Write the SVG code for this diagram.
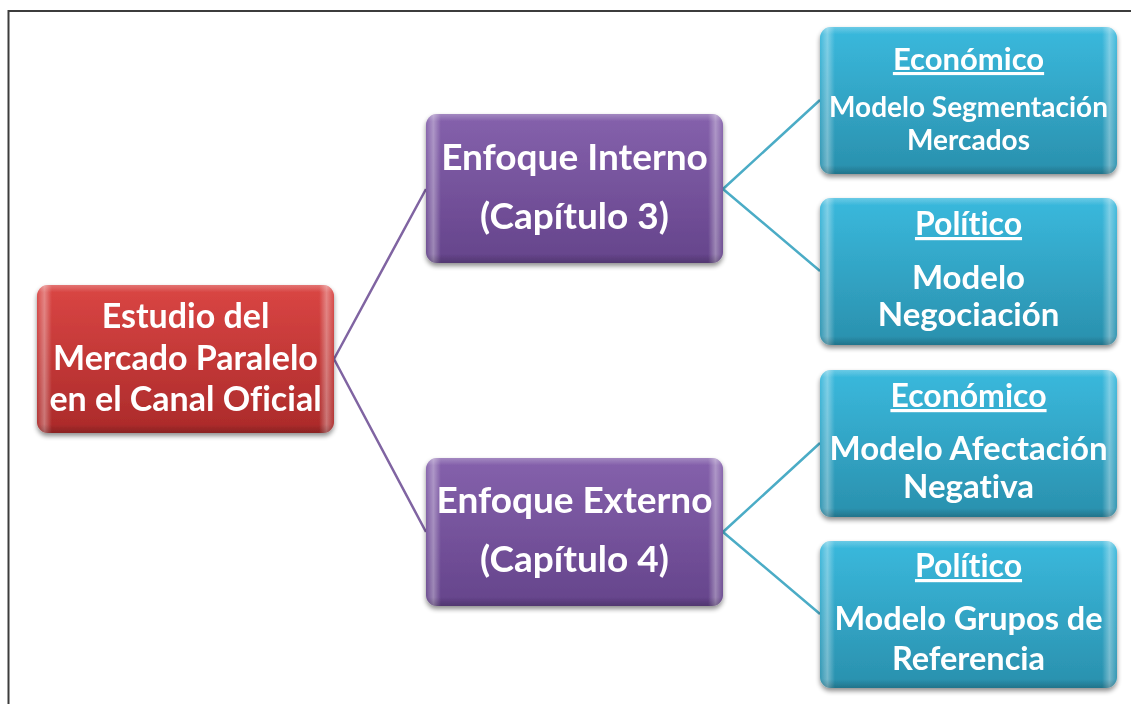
<svg xmlns="http://www.w3.org/2000/svg" width="1131" height="704" viewBox="0 0 1131 704">
  <defs>
    <linearGradient id="gRed" x1="0" y1="0" x2="0" y2="1">
      <stop offset="0" stop-color="#da4644"/>
      <stop offset="1" stop-color="#ab2a2a"/>
    </linearGradient>
    <linearGradient id="gPurple" x1="0" y1="0" x2="0" y2="1">
      <stop offset="0" stop-color="#8561ac"/>
      <stop offset="1" stop-color="#65448b"/>
    </linearGradient>
    <linearGradient id="gTeal" x1="0" y1="0" x2="0" y2="1">
      <stop offset="0" stop-color="#3ab9dd"/>
      <stop offset="1" stop-color="#2a90ad"/>
    </linearGradient>
    <!-- bevel: light side strips -->
    <linearGradient id="gSides" x1="0" y1="0" x2="1" y2="0">
      <stop offset="0" stop-color="#fff" stop-opacity="0.05"/>
      <stop offset="0.025" stop-color="#fff" stop-opacity="0.35"/>
      <stop offset="0.05" stop-color="#fff" stop-opacity="0"/>
      <stop offset="0.95" stop-color="#fff" stop-opacity="0"/>
      <stop offset="0.975" stop-color="#fff" stop-opacity="0.35"/>
      <stop offset="1" stop-color="#fff" stop-opacity="0.05"/>
    </linearGradient>
    <linearGradient id="gTopBot" x1="0" y1="0" x2="0" y2="1">
      <stop offset="0" stop-color="#fff" stop-opacity="0.25"/>
      <stop offset="0.05" stop-color="#fff" stop-opacity="0"/>
      <stop offset="0.94" stop-color="#000" stop-opacity="0"/>
      <stop offset="1" stop-color="#000" stop-opacity="0.2"/>
    </linearGradient>
    <filter id="shadow" x="-10%" y="-10%" width="120%" height="125%">
      <feGaussianBlur in="SourceAlpha" stdDeviation="2.5"/>
      <feOffset dx="0" dy="3" result="b"/>
      <feComponentTransfer><feFuncA type="linear" slope="0.45"/></feComponentTransfer>
      <feMerge><feMergeNode/><feMergeNode in="SourceGraphic"/></feMerge>
    </filter>
  </defs>
  <style>
    text { font-family: Lato, "Open Sans", "Liberation Sans", sans-serif; font-weight: bold; fill: #ffffff; text-anchor: middle; font-variant-ligatures: none; font-feature-settings: "liga" 0, "clig" 0; }
    .root { font-size: 34px; }
    .mid { font-size: 37px; }
    .head { font-size: 32px; text-decoration: underline; }
    .head-s { font-size: 31px; text-decoration: underline; }
    .leaf { font-size: 33px; }
    .leafs { font-size: 28px; }
    .edge { fill: url(#gSides); }
    .shade { fill: url(#gTopBot); }
  </style>

  <rect x="0" y="0" width="1131" height="704" fill="#ffffff"/>
  <!-- page frame -->
  <path d="M8.5 704 V11 H1131" fill="none" stroke="#3c3c3c" stroke-width="2"/>

  <g id="connectors" fill="none" stroke-width="2.5">
    <path d="M334 359 L426 189 M334 359 L426 532" stroke="#8064a2"/>
    <path d="M723 189 L820 100 M723 189 L820 271 M723 532 L820 443 M723 532 L820 614" stroke="#4bacc6"/>
  </g>

  <g id="root" filter="url(#shadow)">
    <rect x="37" y="285" width="297" height="148" rx="11" fill="url(#gRed)"/>
    <rect x="37" y="285" width="297" height="148" rx="11" class="edge"/>
    <rect x="37" y="285" width="297" height="148" rx="11" class="shade"/>
    <text class="root" x="185.5" y="328">Estudio del</text>
    <text class="root" x="185.5" y="370">Mercado Paralelo</text>
    <text class="root" x="185.5" y="411">en el Canal Oficial</text>
  </g>

  <g id="enfoque-interno" filter="url(#shadow)">
    <rect x="426" y="114" width="297" height="149" rx="11" fill="url(#gPurple)"/>
    <rect x="426" y="114" width="297" height="149" rx="11" class="edge"/>
    <rect x="426" y="114" width="297" height="149" rx="11" class="shade"/>
    <text class="mid" x="574.5" y="170">Enfoque Interno</text>
    <text class="mid" x="574.5" y="229">(Capítulo 3)</text>
  </g>

  <g id="enfoque-externo" filter="url(#shadow)">
    <rect x="426" y="458" width="297" height="148" rx="11" fill="url(#gPurple)"/>
    <rect x="426" y="458" width="297" height="148" rx="11" class="edge"/>
    <rect x="426" y="458" width="297" height="148" rx="11" class="shade"/>
    <text class="mid" x="574.5" y="513">Enfoque Externo</text>
    <text class="mid" x="574.5" y="572">(Capítulo 4)</text>
  </g>

  <g id="economico-segmentacion" filter="url(#shadow)">
    <rect x="820" y="27" width="297" height="147" rx="11" fill="url(#gTeal)"/>
    <rect x="820" y="27" width="297" height="147" rx="11" class="edge"/>
    <rect x="820" y="27" width="297" height="147" rx="11" class="shade"/>
    <text class="head-s" x="968.5" y="70">Económico</text>
    <text class="leafs" x="968.5" y="117">Modelo Segmentación</text>
    <text class="leafs" x="968.5" y="150">Mercados</text>
  </g>

  <g id="politico-negociacion" filter="url(#shadow)">
    <rect x="820" y="198" width="297" height="147" rx="11" fill="url(#gTeal)"/>
    <rect x="820" y="198" width="297" height="147" rx="11" class="edge"/>
    <rect x="820" y="198" width="297" height="147" rx="11" class="shade"/>
    <text class="head" x="968.5" y="235">Político</text>
    <text class="leaf" x="968.5" y="289">Modelo</text>
    <text class="leaf" x="968.5" y="326">Negociación</text>
  </g>

  <g id="economico-afectacion" filter="url(#shadow)">
    <rect x="820" y="370" width="297" height="147" rx="11" fill="url(#gTeal)"/>
    <rect x="820" y="370" width="297" height="147" rx="11" class="edge"/>
    <rect x="820" y="370" width="297" height="147" rx="11" class="shade"/>
    <text class="head" x="968.5" y="407">Económico</text>
    <text class="leaf" x="968.5" y="460">Modelo Afectación</text>
    <text class="leaf" x="968.5" y="498">Negativa</text>
  </g>

  <g id="politico-grupos" filter="url(#shadow)">
    <rect x="820" y="541" width="297" height="147" rx="11" fill="url(#gTeal)"/>
    <rect x="820" y="541" width="297" height="147" rx="11" class="edge"/>
    <rect x="820" y="541" width="297" height="147" rx="11" class="shade"/>
    <text class="head" x="968.5" y="577">Político</text>
    <text class="leaf" x="968.5" y="630" style="font-size:32.5px">Modelo Grupos de</text>
    <text class="leaf" x="968.5" y="670" style="font-size:32.5px">Referencia</text>
  </g>
</svg>
